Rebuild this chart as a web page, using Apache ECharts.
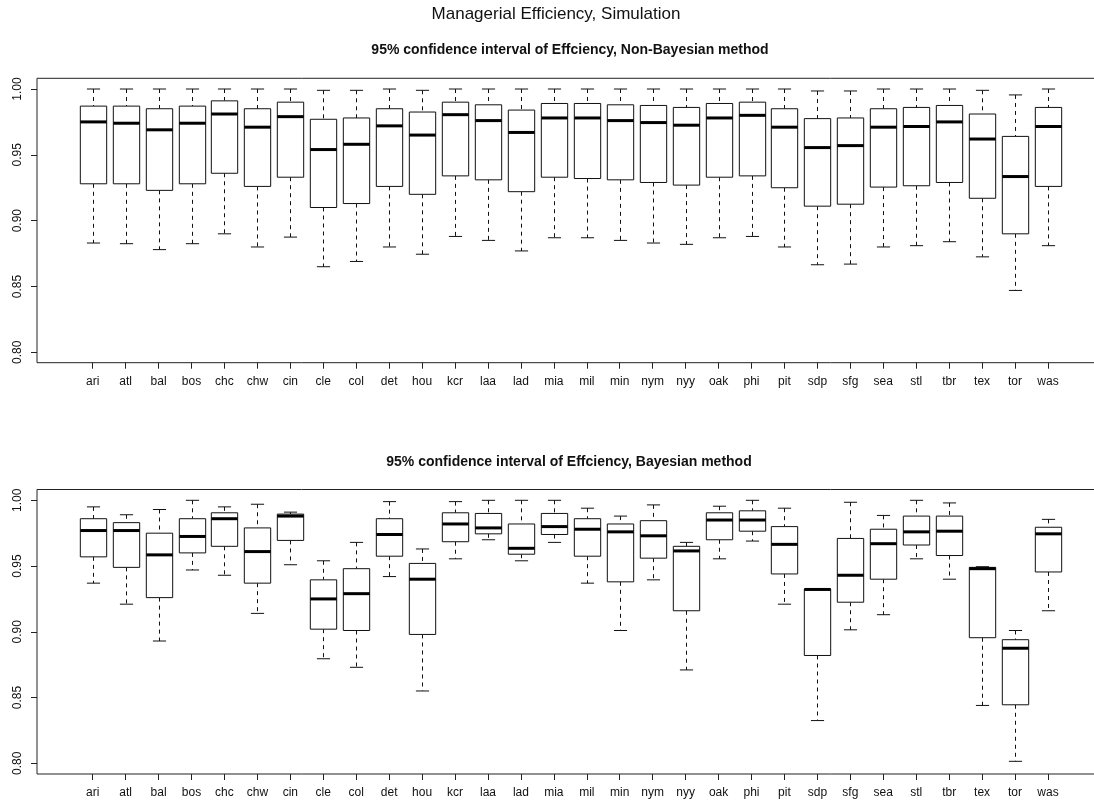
<!DOCTYPE html>
<html>
<head>
<meta charset="utf-8">
<title>Managerial Efficiency, Simulation</title>
<script src="https://cdn.jsdelivr.net/npm/echarts@6/dist/echarts.min.js"></script>
<style>
  html, body { margin: 0; padding: 0; background: #fff; }
  #chart { width: 1094px; height: 805px; }
</style>
</head>
<body>
<div id="chart"></div>
<script>
// Teams on the x axis
const teams = ['ari','atl','bal','bos','chc','chw','cin','cle','col','det','hou','kcr','laa','lad','mia',
               'mil','min','nym','nyy','oak','phi','pit','sdp','sfg','sea','stl','tbr','tex','tor','was'];

// Non-Bayesian method: whisker ends, quartiles and medians
const nbHigh = [1.000,1.000,1.000,1.000,1.000,1.000,1.000,0.999,0.999,1.000,0.999,1.000,1.000,1.000,1.000,
                1.000,1.000,1.000,1.000,1.000,1.000,1.000,0.9985,0.9985,1.000,1.000,1.000,0.999,0.9955,1.000];
const nbQ3   = [0.987,0.987,0.985,0.987,0.991,0.985,0.990,0.977,0.978,0.985,0.9825,0.990,0.988,0.984,0.989,
                0.989,0.988,0.9875,0.986,0.989,0.990,0.985,0.9775,0.978,0.985,0.986,0.9875,0.981,0.964,0.986];
const nbMed  = [0.975,0.974,0.969,0.974,0.981,0.971,0.979,0.954,0.958,0.972,0.965,0.9805,0.976,0.967,0.978,
                0.978,0.976,0.9745,0.9725,0.978,0.980,0.971,0.9555,0.957,0.971,0.9715,0.975,0.962,0.9335,0.9715];
const nbQ1   = [0.928,0.928,0.923,0.928,0.936,0.926,0.933,0.910,0.913,0.926,0.920,0.934,0.931,0.922,0.933,
                0.932,0.931,0.929,0.927,0.933,0.934,0.925,0.911,0.9125,0.9255,0.9265,0.929,0.917,0.890,0.926];
const nbLow  = [0.883,0.8825,0.878,0.8825,0.890,0.880,0.8875,0.865,0.869,0.880,0.8745,0.888,0.885,0.877,0.887,
                0.887,0.885,0.883,0.882,0.887,0.888,0.880,0.8665,0.867,0.880,0.881,0.884,0.8725,0.847,0.881];

// Bayesian method: whisker ends, quartiles and medians
const bHigh = [0.995,0.989,0.993,1.000,0.995,0.997,0.991,0.954,0.968,0.999,0.963,0.999,1.000,1.000,1.000,
               0.994,0.988,0.9965,0.968,0.9955,1.000,0.994,0.9326,0.9985,0.9885,1.000,0.998,0.9495,0.901,0.9855];
const bQ3   = [0.986,0.983,0.975,0.986,0.9905,0.979,0.9895,0.9395,0.948,0.986,0.952,0.9905,0.990,0.982,0.990,
               0.986,0.982,0.9845,0.965,0.9905,0.992,0.980,0.9325,0.971,0.978,0.988,0.988,0.949,0.894,0.9795];
const bMed  = [0.977,0.977,0.9585,0.9725,0.986,0.961,0.988,0.925,0.929,0.974,0.940,0.982,0.979,0.9635,0.980,
               0.978,0.976,0.973,0.9615,0.985,0.985,0.9665,0.9322,0.943,0.967,0.976,0.9765,0.948,0.8875,0.9745];
const bQ1   = [0.957,0.949,0.926,0.960,0.965,0.937,0.9695,0.902,0.901,0.9575,0.898,0.9685,0.9745,0.959,0.974,
               0.9575,0.938,0.956,0.916,0.970,0.9765,0.944,0.882,0.9225,0.940,0.966,0.958,0.8955,0.8445,0.9455];
const bLow  = [0.937,0.921,0.893,0.947,0.943,0.914,0.951,0.8795,0.873,0.942,0.855,0.9555,0.970,0.954,0.968,
               0.937,0.901,0.9395,0.871,0.9555,0.969,0.921,0.8325,0.9015,0.913,0.9555,0.940,0.844,0.8015,0.916];

// Y axis tick range
const yMin = 0.80, yMax = 1.00, yStep = 0.05;

const mainTitle = 'Managerial Efficiency, Simulation';
const topTitle = '95% confidence interval of Effciency, Non-Bayesian method';
const bottomTitle = '95% confidence interval of Effciency, Bayesian method';

const FONT = '"Liberation Sans", Arial, Helvetica, sans-serif';
const INK = '#111';

function rows(low, q1, med, q3, high) {
  return teams.map((t, i) => [t, low[i], q1[i], med[i], q3[i], high[i]]);
}

// R-style box: white box, heavy median, dashed whiskers with short staples
function renderBox(params, api) {
  const x = api.value(0);
  const lo = api.coord([x, api.value(1)]);
  const q1 = api.coord([x, api.value(2)]);
  const md = api.coord([x, api.value(3)]);
  const q3 = api.coord([x, api.value(4)]);
  const hi = api.coord([x, api.value(5)]);
  const band = api.size([1, 0])[0];
  const half = band * 0.4;
  const cap = half * 0.5;
  const cx = Math.round(md[0]) + 0.5;
  const dash = { stroke: INK, lineWidth: 1, lineDash: [4, 4], fill: null };
  const solid = { stroke: INK, lineWidth: 1, fill: null };
  return {
    type: 'group',
    children: [
      { type: 'line', shape: { x1: cx, y1: hi[1], x2: cx, y2: q3[1] }, style: dash },
      { type: 'line', shape: { x1: cx, y1: q1[1], x2: cx, y2: lo[1] }, style: dash },
      { type: 'line', shape: { x1: cx - cap, y1: hi[1], x2: cx + cap, y2: hi[1] }, style: solid },
      { type: 'line', shape: { x1: cx - cap, y1: lo[1], x2: cx + cap, y2: lo[1] }, style: solid },
      { type: 'rect', shape: { x: cx - half, y: q3[1], width: half * 2, height: q1[1] - q3[1] },
        style: { stroke: INK, lineWidth: 1, fill: '#fff' } },
      { type: 'line', shape: { x1: cx - half, y1: md[1], x2: cx + half, y2: md[1] },
        style: { stroke: '#000', lineWidth: 3, fill: null } }
    ]
  };
}

// Panel geometry (data grid spans 0.80..1.00; frame grid adds R's 4% padding)
const band = 32.94;
const dataLeft = 92.7 - band / 2;
const panels = [
  { frameTop: 78.3, frameH: 284.4, dataTop: 89, dataH: 263.3 },
  { frameTop: 489.5, frameH: 284.5, dataTop: 500.3, dataH: 263 }
];

const grid = [], xAxis = [], yAxis = [];
panels.forEach((p, k) => {
  // data grid
  grid.push({ left: dataLeft, top: p.dataTop, width: band * teams.length, height: p.dataH,
              show: false, outerBoundsMode: 'none', containLabel: false });
  // frame grid: its right edge lies past the canvas, so only three sides show
  grid.push({ left: 37, top: p.frameTop, width: 1067, height: p.frameH, show: true,
              outerBoundsMode: 'none', containLabel: false,
              borderColor: '#222', borderWidth: 1, backgroundColor: 'transparent' });
  const g = k * 2;
  xAxis.push({
    gridIndex: g, type: 'category', data: teams, position: 'bottom',
    offset: (p.frameTop + p.frameH) - (p.dataTop + p.dataH),
    axisLine: { show: false },
    axisTick: { show: true, alignWithLabel: true, length: 6, lineStyle: { color: '#222' } },
    axisLabel: { color: INK, fontFamily: FONT, fontSize: 12, margin: 13, interval: 0 },
    splitLine: { show: false }
  });
  xAxis.push({ gridIndex: g + 1, type: 'value', show: false, min: 0, max: 1 });
  yAxis.push({
    gridIndex: g, type: 'value', min: yMin, max: yMax, interval: yStep,
    offset: dataLeft - 37,
    axisLine: { show: false },
    axisTick: { show: true, length: 6, lineStyle: { color: '#222' } },
    axisLabel: { color: INK, fontFamily: FONT, fontSize: 12, rotate: 90, margin: 13,
                 formatter: v => v.toFixed(2) },
    splitLine: { show: false }
  });
  yAxis.push({ gridIndex: g + 1, type: 'value', show: false, min: 0, max: 1 });
});

const chart = echarts.init(document.getElementById('chart'), null, { renderer: 'canvas' });
chart.setOption({
  animation: false,
  backgroundColor: '#fff',
  textStyle: { fontFamily: FONT },
  graphic: [
    { type: 'text', x: 556, y: 14, style: { text: mainTitle, font: '17px ' + FONT, fill: INK,
      textAlign: 'center', textVerticalAlign: 'middle' } },
    { type: 'text', x: 570, y: 50, style: { text: topTitle, font: 'bold 14px ' + FONT, fill: INK,
      textAlign: 'center', textVerticalAlign: 'middle' } },
    { type: 'text', x: 569, y: 462.5, style: { text: bottomTitle, font: 'bold 14px ' + FONT, fill: INK,
      textAlign: 'center', textVerticalAlign: 'middle' } }
  ],
  grid, xAxis, yAxis,
  series: [
    { type: 'custom', name: 'Non-Bayesian', xAxisIndex: 0, yAxisIndex: 0, renderItem: renderBox,
      encode: { x: 0, y: [1, 2, 3, 4, 5] }, data: rows(nbLow, nbQ1, nbMed, nbQ3, nbHigh) },
    { type: 'custom', name: 'Bayesian', xAxisIndex: 2, yAxisIndex: 2, renderItem: renderBox,
      encode: { x: 0, y: [1, 2, 3, 4, 5] }, data: rows(bLow, bQ1, bMed, bQ3, bHigh) }
  ]
});
</script>
</body>
</html>
